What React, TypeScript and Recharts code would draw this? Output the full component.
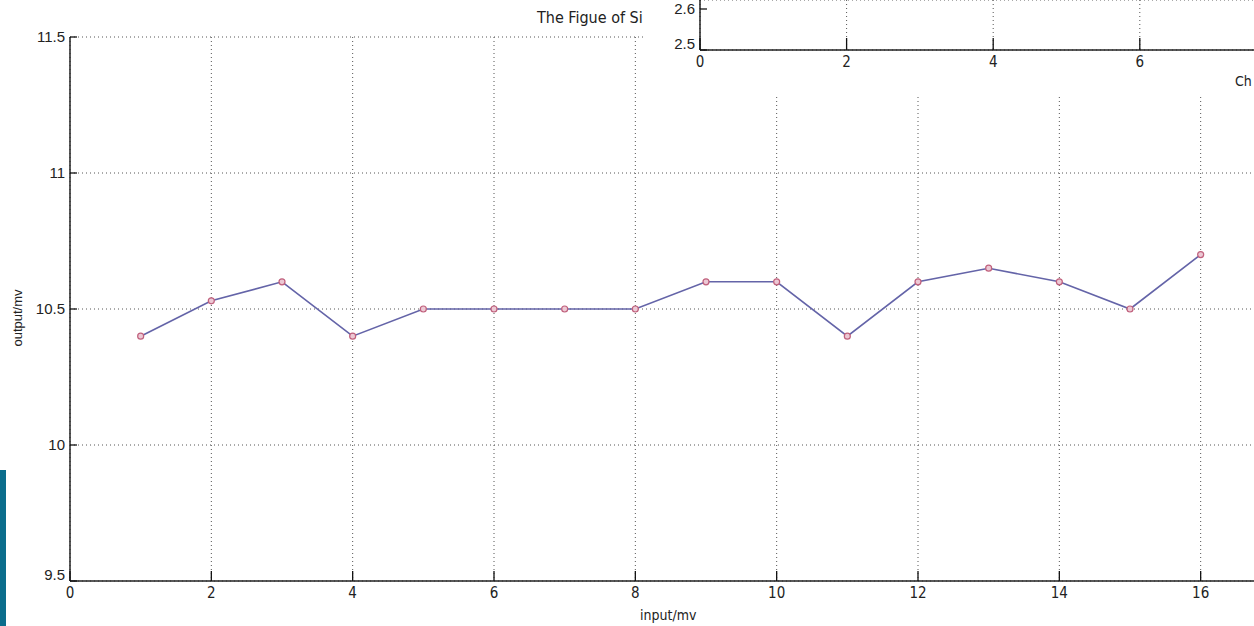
import React from "react";
import {
	LineChart,
	Line,
	XAxis,
	YAxis,
	CartesianGrid,
} from "recharts";

// main plot values
const inputMv = [1, 2, 3, 4, 5, 6, 7, 8, 9, 10, 11, 12, 13, 14, 15, 16];
const outputMv = [
	10.4, 10.53, 10.6, 10.4, 10.5, 10.5, 10.5, 10.5, 10.6, 10.6, 10.4, 10.6,
	10.65, 10.6, 10.5, 10.7,
];
const xTicks = [0, 2, 4, 6, 8, 10, 12, 14, 16];
const yTicks = [9.5, 10, 10.5, 11, 11.5];

// the inset chart that covers the top right corner (only its axes show)
const insetXTicks = [0, 2, 4, 6];
const insetYTicks = [2.5, 2.6];

const chartData = inputMv.map((x, i) => ({ x, y: outputMv[i] }));
const insetData = [
	{ x: 0, y: insetYTicks[0] },
	{ x: 10, y: insetYTicks[1] },
];

const narrow = "'Liberation Sans Narrow', 'DejaVu Sans Condensed', sans-serif";
const regular = "'Liberation Sans', Arial, sans-serif";

const makeXTick = (len: number, axisY: number) => (props: any) => {
	const { x, payload } = props;
	return (
		<g>
			<line x1={x} y1={axisY} x2={x} y2={axisY - len} stroke="#111" strokeWidth={1.3} />
			<text
				x={x}
				y={axisY + 17}
				textAnchor="middle"
				fontFamily={narrow}
				fontSize={15}
				fill="#222"
			>
				{payload.value}
			</text>
		</g>
	);
};

const makeYTick = (len: number, axisX: number, bottomVal: number) => (props: any) => {
	const { y, payload } = props;
	const v = payload.value;
	return (
		<g>
			<line x1={axisX} y1={y} x2={axisX + len} y2={y} stroke="#111" strokeWidth={1.3} />
			<text
				x={axisX - 5}
				y={y}
				dy={v === bottomVal ? -1 : 5}
				textAnchor="end"
				fontFamily={regular}
				fontSize={15}
				fill="#222"
			>
				{v}
			</text>
		</g>
	);
};

export default function App() {
	return (
		<div
			style={{
				position: "absolute",
				left: 0,
				top: 0,
				width: 1254,
				height: 626,
				overflow: "hidden",
				background: "#fff",
			}}
		>
			<LineChart
				width={1350}
				height={626}
				data={chartData}
				margin={{ top: 37, right: 8, left: 40, bottom: 15 }}
			>
				<CartesianGrid stroke="#555" strokeDasharray="1 3" />
				<XAxis
					dataKey="x"
					type="number"
					domain={[0, 18]}
					ticks={xTicks}
					height={30}
					tickLine={false}
					axisLine={{ stroke: "#222", strokeWidth: 1.5 }}
					tick={makeXTick(10, 581)}
				/>
				<YAxis
					type="number"
					domain={[9.5, 11.5]}
					ticks={yTicks}
					width={30}
					tickLine={false}
					axisLine={{ stroke: "#222", strokeWidth: 1.5 }}
					tick={makeYTick(7, 70, 9.5)}
				/>
				<Line
					dataKey="y"
					stroke="#6464a8"
					strokeWidth={1.6}
					dot={{ r: 3, stroke: "#c0607c", strokeWidth: 1.2, fill: "#ecc8d4" }}
					isAnimationActive={false}
				/>
			</LineChart>

			{/* title and axis labels */}
			<div
				style={{
					position: "absolute",
					left: 537,
					top: 8,
					fontFamily: narrow,
					fontSize: 16,
					color: "#222",
					whiteSpace: "nowrap",
				}}
			>
				The Figue of Si
			</div>
			<div
				style={{
					position: "absolute",
					left: 640,
					top: 607,
					fontFamily: narrow,
					fontSize: 14,
					color: "#222",
				}}
			>
				input/mv
			</div>
			<div
				style={{
					position: "absolute",
					left: 17,
					top: 318,
					transform: "translate(-50%, -50%) rotate(-90deg)",
					fontFamily: regular,
					fontSize: 13,
					color: "#222",
					whiteSpace: "nowrap",
				}}
			>
				output/mv
			</div>

			{/* teal strip on the left edge */}
			<div
				style={{
					position: "absolute",
					left: 0,
					top: 470,
					width: 6,
					height: 156,
					background: "#0b6d8c",
				}}
			/>

			{/* inset chart overlapping the top right */}
			<div
				style={{
					position: "absolute",
					left: 645,
					top: 0,
					width: 609,
					height: 96,
					overflow: "hidden",
					background: "#fff",
				}}
			>
				<LineChart
					width={800}
					height={96}
					data={insetData}
					margin={{ top: 0, right: 12, left: 25, bottom: 16 }}
				>
					<CartesianGrid stroke="#555" strokeDasharray="1 3" />
					<XAxis
						dataKey="x"
						type="number"
						domain={[0, 10]}
						ticks={insetXTicks}
						height={30}
						tickLine={false}
						axisLine={{ stroke: "#222", strokeWidth: 1.5 }}
						tick={makeXTick(12, 50)}
					/>
					<YAxis
						dataKey="y"
						type="number"
						domain={[2.5, 2.6]}
						ticks={insetYTicks}
						width={30}
						tickLine={false}
						axisLine={{ stroke: "#222", strokeWidth: 1.5 }}
						tick={makeYTick(7, 55, 2.5)}
					/>
				</LineChart>
				<div
					style={{
						position: "absolute",
						left: 590,
						top: 73,
						fontFamily: narrow,
						fontSize: 14,
						color: "#222",
					}}
				>
					Ch
				</div>
			</div>
		</div>
	);
}
